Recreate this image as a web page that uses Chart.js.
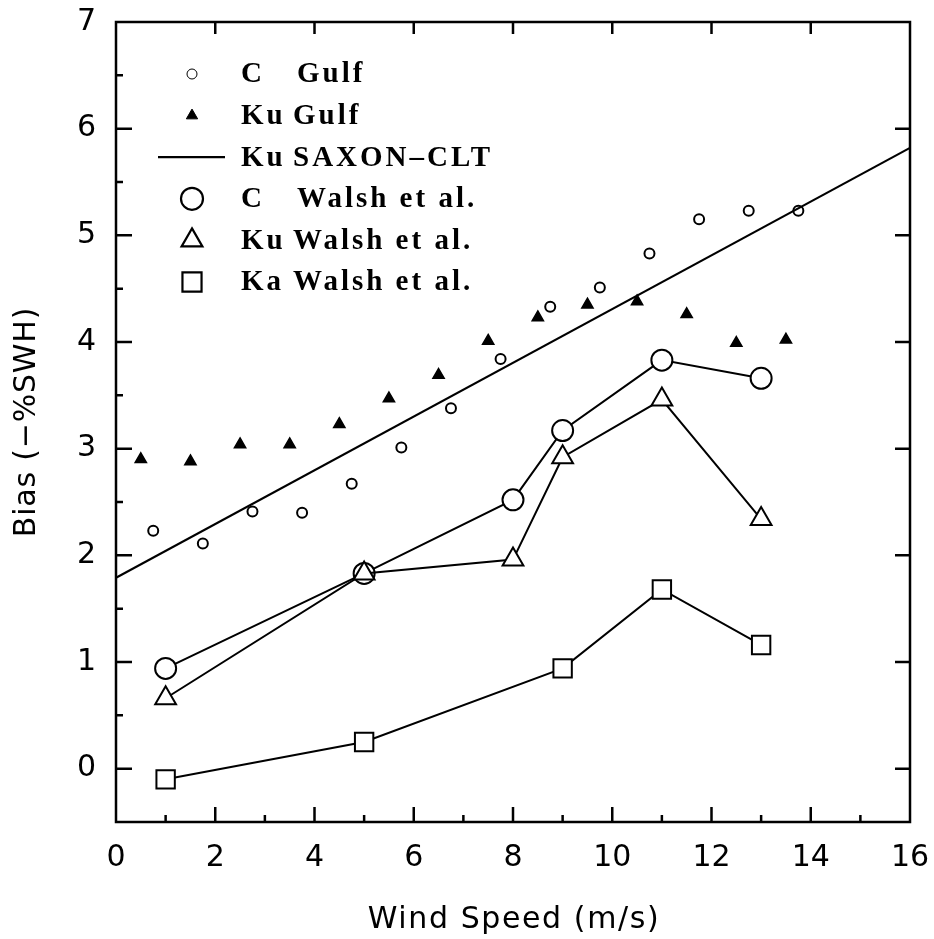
<!DOCTYPE html>
<html>
<head>
<meta charset="utf-8">
<title>Altimeter EM bias vs wind speed</title>
<script src="https://cdn.jsdelivr.net/npm/chart.js@4/dist/chart.umd.min.js"></script>
<style>
  html, body { margin: 0; padding: 0; background: #fff; }
  #wrap { width: 934px; height: 939px; }
</style>
</head>
<body>
<div id="wrap"><canvas id="c" width="934" height="939"></canvas></div>
<script>
// Gulf of Mexico campaign, C band (open small circles)
const cGulfWind = [0.75, 1.75, 2.75, 3.75, 4.75, 5.75, 6.75, 7.75, 8.75, 9.75, 10.75, 11.75, 12.75, 13.75];
const cGulfBias = [2.23, 2.11, 2.41, 2.40, 2.67, 3.01, 3.38, 3.84, 4.33, 4.51, 4.83, 5.15, 5.23, 5.23];

// Gulf of Mexico campaign, Ku band (small filled triangles)
const kuGulfWind = [0.5, 1.5, 2.5, 3.5, 4.5, 5.5, 6.5, 7.5, 8.5, 9.5, 10.5, 11.5, 12.5, 13.5];
const kuGulfBias = [2.90, 2.88, 3.04, 3.04, 3.23, 3.47, 3.69, 4.01, 4.23, 4.35, 4.38, 4.26, 3.99, 4.02];

// SAXON-CLT Ku band linear fit (end points of the straight line)
const saxonWind = [0, 16];
const saxonBias = [1.79, 5.82];

// Walsh et al. wind speed bins
const walshWind = [1, 5, 8, 9, 11, 13];
const cWalshBias  = [0.94, 1.83, 2.52, 3.17, 3.83, 3.66];
const kuWalshBias = [0.66, 1.83, 1.96, 2.92, 3.46, 2.34];
// Ka band has no 8 m/s bin
const kaWalshWind = [1, 5, 9, 11, 13];
const kaWalshBias = [-0.10, 0.25, 0.94, 1.68, 1.16];

// Axis ticks
const xTickValues = [0, 2, 4, 6, 8, 10, 12, 14, 16];
const yTickValues = [0, 1, 2, 3, 4, 5, 6, 7];

const xTitle = 'Wind Speed (m/s)';
const yTitle = 'Bias (\u2212%SWH)';

const pts = (xs, ys) => xs.map((x, i) => ({ x: x, y: ys[i] }));

const INK = '#000';
const sansFont = { family: '"DejaVu Sans", sans-serif', size: 30 };

const datasets = [
  {
    label: 'C  Gulf', band: 'C', name: 'Gulf',
    data: pts(cGulfWind, cGulfBias),
    showLine: false, pointStyle: 'circle', pointRadius: 5, pointBorderWidth: 2,
    borderColor: INK, backgroundColor: 'rgba(0,0,0,0)', order: 5
  },
  {
    label: 'Ku Gulf', band: 'Ku', name: 'Gulf',
    data: pts(kuGulfWind, kuGulfBias),
    showLine: false, pointStyle: 'triangle', pointRadius: 6.5, pointBorderWidth: 1.5,
    borderColor: INK, backgroundColor: INK, order: 4
  },
  {
    label: 'Ku SAXON\u2013CLT', band: 'Ku', name: 'SAXON\u2013CLT',
    data: pts(saxonWind, saxonBias),
    showLine: true, pointRadius: 0, borderWidth: 2.2,
    borderColor: INK, backgroundColor: INK, order: 10, isLine: true
  },
  {
    label: 'C  Walsh et al.', band: 'C', name: 'Walsh et al.',
    data: pts(walshWind, cWalshBias),
    showLine: true, borderWidth: 2, pointStyle: 'circle', pointRadius: 10.5, pointBorderWidth: 2,
    borderColor: INK, backgroundColor: '#fff', order: 3
  },
  {
    label: 'Ku Walsh et al.', band: 'Ku', name: 'Walsh et al.',
    data: pts(walshWind, kuWalshBias),
    showLine: true, borderWidth: 2, pointStyle: 'triangle', pointRadius: 12, pointBorderWidth: 2,
    borderColor: INK, backgroundColor: '#fff', order: 2
  },
  {
    label: 'Ka Walsh et al.', band: 'Ka', name: 'Walsh et al.',
    data: pts(kaWalshWind, kaWalshBias),
    showLine: true, borderWidth: 2, pointStyle: 'rect', pointRadius: 13, pointBorderWidth: 2,
    borderColor: INK, backgroundColor: '#fff', order: 1
  }
];

// Boxed frame with inward tick marks on all four sides
const frameTicks = {
  id: 'frameTicks',
  beforeDatasetsDraw(chart) {
    const { ctx, chartArea: a, scales: { x, y } } = chart;
    ctx.save();
    ctx.strokeStyle = INK;
    ctx.lineWidth = 2.5;
    ctx.lineCap = 'butt';
    ctx.strokeRect(a.left, a.top, a.right - a.left, a.bottom - a.top);
    ctx.beginPath();
    for (let v = 1; v < 16; v++) {
      const px = x.getPixelForValue(v);
      const major = v % 2 === 0;
      ctx.moveTo(px, a.bottom);
      ctx.lineTo(px, a.bottom - (major ? 15 : 7));
      if (major) {
        ctx.moveTo(px, a.top);
        ctx.lineTo(px, a.top + 12);
      }
    }
    for (let v = 0; v < 7; v += 0.5) {
      const py = y.getPixelForValue(v);
      const major = Number.isInteger(v);
      ctx.moveTo(a.left, py);
      ctx.lineTo(a.left + (major ? 16 : 7), py);
      if (major) {
        ctx.moveTo(a.right, py);
        ctx.lineTo(a.right - 15, py);
      }
    }
    ctx.stroke();
    ctx.restore();
  }
};

// Axis titles with the wide letter spacing of the plotting font
const axisTitles = {
  id: 'axisTitles',
  afterDraw(chart) {
    const { ctx, chartArea: a } = chart;
    ctx.save();
    ctx.fillStyle = INK;
    ctx.font = '30px "DejaVu Sans", sans-serif';
    ctx.textAlign = 'center';
    ctx.textBaseline = 'middle';
    if ('letterSpacing' in ctx) ctx.letterSpacing = '1.6px';
    ctx.fillText(xTitle, (a.left + a.right) / 2 + 1, 920);
    ctx.translate(27, (a.top + a.bottom) / 2);
    ctx.rotate(-Math.PI / 2);
    if ('letterSpacing' in ctx) ctx.letterSpacing = '0.8px';
    ctx.fillText(yTitle, 0, 0);
    ctx.restore();
  }
};

// Key drawn inside the plot, upper left
const insetKey = {
  id: 'insetKey',
  afterDraw(chart) {
    const { ctx } = chart;
    const symX = 192, bandX = 241, nameX = 297, top = 74, step = 41.6;
    ctx.save();
    ctx.font = 'bold 29px "Liberation Serif", serif';
    ctx.textBaseline = 'middle';
    ctx.textAlign = 'left';
    if ('letterSpacing' in ctx) ctx.letterSpacing = '3px';
    chart.data.datasets.forEach((ds, i) => {
      const yy = top + i * step;
      ctx.strokeStyle = INK;
      ctx.fillStyle = ds.backgroundColor;
      if (ds.isLine) {
        ctx.lineWidth = 2.2;
        ctx.beginPath();
        ctx.moveTo(158, yy);
        ctx.lineTo(225, yy);
        ctx.stroke();
      } else {
        const r = ds.pointStyle === 'circle' && ds.pointRadius > 8 ? 11
                : ds.pointStyle === 'triangle' && ds.pointRadius > 8 ? 12
                : ds.pointStyle === 'rect' ? 13.5
                : ds.pointRadius;
        Chart.helpers.drawPoint(ctx, {
          pointStyle: ds.pointStyle, radius: r, rotation: 0, borderWidth: ds.pointBorderWidth
        }, symX, yy);
      }
      ctx.fillStyle = INK;
      ctx.fillText(ds.band, bandX, yy + 1);
      const nx = ds.band === 'C' ? nameX : nameX - 4;
      ctx.fillText(ds.name, nx, yy + 1);
    });
    ctx.restore();
  }
};

new Chart(document.getElementById('c'), {
  type: 'scatter',
  data: { datasets: datasets },
  options: {
    responsive: false,
    animation: false,
    devicePixelRatio: 1,
    layout: { padding: { top: 22, right: 24, left: 0, bottom: 0 } },
    plugins: {
      legend: { display: false },
      tooltip: { enabled: false },
      title: { display: false }
    },
    elements: { line: { tension: 0 } },
    scales: {
      x: {
        type: 'linear', min: 0, max: 16,
        afterBuildTicks: (s) => { s.ticks = xTickValues.map(v => ({ value: v })); },
        afterFit: (s) => { s.height = 117; s.paddingLeft = 0; s.paddingRight = 0; },
        grid: { display: false, drawTicks: false },
        border: { display: false },
        ticks: { color: INK, font: sansFont, padding: 18, maxRotation: 0, autoSkip: false }
      },
      y: {
        type: 'linear', min: -0.5, max: 7,
        afterBuildTicks: (s) => { s.ticks = yTickValues.map(v => ({ value: v })); },
        afterFit: (s) => { s.width = 116; s.paddingTop = 0; s.paddingBottom = 0; },
        grid: { display: false, drawTicks: false },
        border: { display: false },
        ticks: { color: INK, font: sansFont, padding: 20, autoSkip: false }
      }
    }
  },
  plugins: [frameTicks, axisTitles, insetKey]
});
</script>
</body>
</html>
